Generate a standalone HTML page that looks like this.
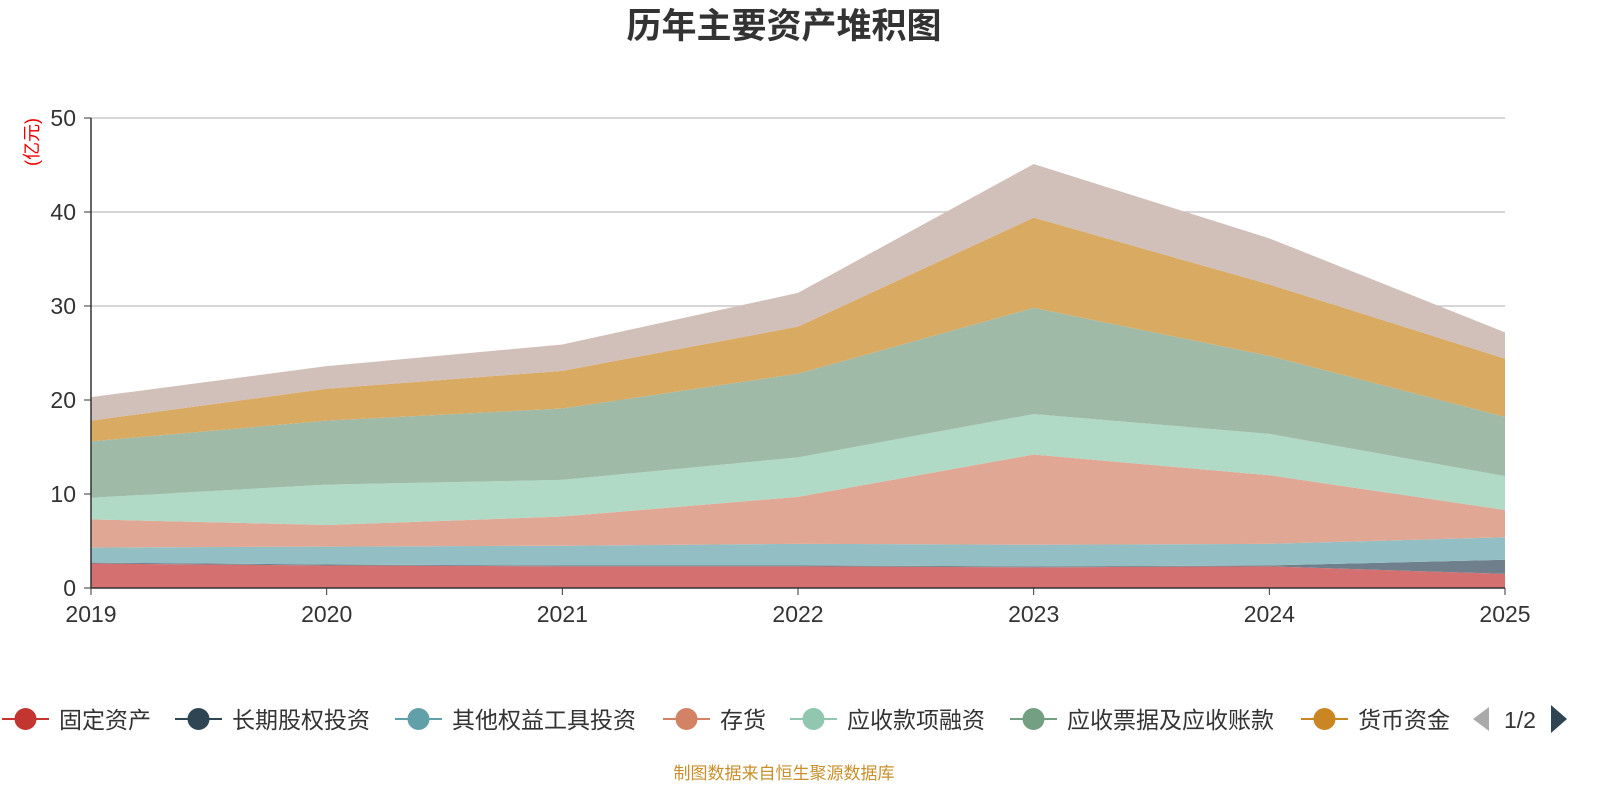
<!DOCTYPE html>
<html><head><meta charset="utf-8"><style>
body{margin:0;background:#fff;}
svg text{font-family:"Liberation Sans","Noto Sans CJK SC",sans-serif;}
</style></head><body>
<svg id="chart" width="1600" height="800">
<text x="784" y="38" text-anchor="middle" font-size="35" font-weight="bold" fill="#333">历年主要资产堆积图</text>
<text transform="translate(38,142) rotate(-90)" text-anchor="middle" font-size="18" fill="#e00">(亿元)</text>
<g id="grid"></g><g id="areas"></g><g id="axes"></g><g id="legend"></g>
<text x="784" y="779" text-anchor="middle" font-size="17" fill="#c8902c">制图数据来自恒生聚源数据库</text>
</svg>
<script>
const years=["2019","2020","2021","2022","2023","2024","2025"];
const seriesNames=["固定资产","长期股权投资","其他权益工具投资","存货","应收款项融资","应收票据及应收账款","货币资金","其他"];
const s0=[2.6,2.4,2.3,2.3,2.2,2.3,1.5];
const s1=[0.1,0.1,0.1,0.1,0.1,0.1,1.5];
const s2=[1.6,1.9,2.1,2.3,2.3,2.3,2.4];
const s3=[3.0,2.3,3.1,5.0,9.6,7.3,2.9];
const s4=[2.3,4.3,3.9,4.2,4.3,4.4,3.6];
const s5=[6.0,6.8,7.6,8.9,11.3,8.3,6.3];
const s6=[2.2,3.4,4.0,5.0,9.6,7.6,6.2];
const s7=[2.5,2.4,2.8,3.6,5.7,4.9,2.8];
const yTicks=[0,10,20,30,40,50];
const series=[s0,s1,s2,s3,s4,s5,s6,s7];
const fills=["#d47070","#6f808c","#93bfc4","#e0a894","#b0d9c6","#9fbba8","#d9aa62","#d1bfba"];
const legendColors=["#c23531","#2f4554","#61a0a8","#d48265","#91c7ae","#749f83","#ca8622"];
const NS="http://www.w3.org/2000/svg";
const X=i=>91+i*(1505-91)/(years.length-1);
const Y=v=>588-v*(470/50);
function mk(t,a,p){const e=document.createElementNS(NS,t);for(const k in a)e.setAttribute(k,a[k]);p.appendChild(e);return e;}
const grid=document.getElementById('grid'),areas=document.getElementById('areas'),axes=document.getElementById('axes'),legend=document.getElementById('legend');
yTicks.forEach(t=>{
  if(t>0){const g=mk('line',{x1:91,x2:1505,y1:Y(t),y2:Y(t),stroke:'#c8c8c8','stroke-width':1.5},grid);
  
  }
  const l=mk('text',{x:76,y:Y(t)+8,'text-anchor':'end','font-size':23,fill:'#333'},axes);l.textContent=t;
  
  
  mk('line',{x1:84,x2:91,y1:Y(t),y2:Y(t),stroke:'#333'},axes);
});
let base=years.map(()=>0);
series.forEach((s,k)=>{
  const top=base.map((b,i)=>b+s[i]);
  let d=top.map((v,i)=>(i?'L':'M')+X(i)+','+Y(v)).join('');
  for(let i=years.length-1;i>=0;i--)d+='L'+X(i)+','+Y(base[i]);
  const p=mk('path',{d:d+'Z',fill:fills[k]},areas);
  
  
  base=top;
});
mk('line',{x1:91,x2:91,y1:118,y2:588,stroke:'#333','stroke-width':1.5},axes);
mk('line',{x1:91,x2:1505,y1:588,y2:588,stroke:'#333','stroke-width':1.5},axes);
years.forEach((y,i)=>{
  mk('line',{x1:X(i),x2:X(i),y1:588,y2:595,stroke:'#333'},axes);
  const t=mk('text',{x:X(i),y:622,'text-anchor':'middle','font-size':23,fill:'#333'},axes);t.textContent=y;
  
  
});
const lx=[2,175,395,663,790,1010,1301];
legendColors.forEach((c,k)=>{
  const g=mk('g',{},legend);
  
  
  mk('line',{x1:lx[k],x2:lx[k]+47,y1:719,y2:719,stroke:c,'stroke-width':2},g);
  mk('circle',{cx:lx[k]+23.5,cy:719,r:11,fill:c},g);
  const t=mk('text',{x:lx[k]+57,y:728,'font-size':23,fill:'#333'},g);t.textContent=seriesNames[k];
});
const a1=mk('path',{d:'M1489,707L1473,719L1489,731Z',fill:'#aaa'},legend);


const pg=mk('text',{x:1520,y:728,'text-anchor':'middle','font-size':23,fill:'#333'},legend);pg.textContent='1/2';


const a2=mk('path',{d:'M1551,705L1567,719L1551,733Z',fill:'#2f4554'},legend);


</script>
</body></html>
